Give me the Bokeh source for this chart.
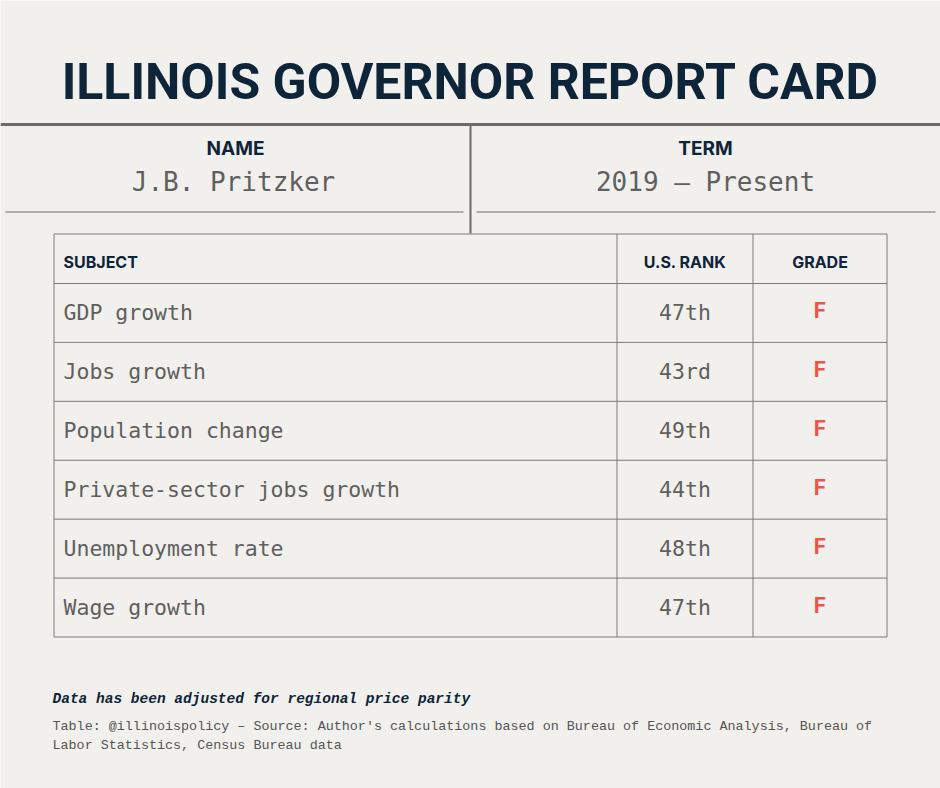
from bokeh.plotting import figure
from bokeh.models import Range1d, ColumnDataSource
from bokeh.core.properties import value
from bokeh.embed import file_html
from bokeh.resources import INLINE

# ---- data ----
title = "ILLINOIS GOVERNOR REPORT CARD"
name_label = "NAME"
name_value = "J.B. Pritzker"
term_label = "TERM"
term_value = "2019 – Present"
col_headers = ["SUBJECT", "U.S. RANK", "GRADE"]
subjects = ["GDP growth", "Jobs growth", "Population change",
            "Private-sector jobs growth", "Unemployment rate", "Wage growth"]
ranks = ["47th", "43rd", "49th", "44th", "48th", "47th"]
grades = ["F", "F", "F", "F", "F", "F"]
note = "Data has been adjusted for regional price parity"
source_lines = ["Table: @illinoispolicy – Source: Author's calculations based on Bureau of Economic Analysis, Bureau of",
                "Labor Statistics, Census Bureau data"]

# ---- styles ----
BG = "#f1f0ed"
NAVY = "#0e2438"
GRAY_TXT = "#5f5f5f"
LINE = "#6a6a6a"
TLINE = "#7a7a7a"
RED = "#e8574a"
MONO = value("DejaVu Sans Mono")
HEAD = value("Inter")

W, H = 940, 788
p = figure(width=W, height=H, output_backend="svg", toolbar_location=None,
           x_range=Range1d(0, W), y_range=Range1d(H, 0),
           min_border=0, background_fill_color=BG, border_fill_color=BG,
           outline_line_color=None)
p.axis.visible = False
p.grid.visible = False

# title
p.text(x=[470], y=[81], text=[title], text_font=value("Roboto"),
       text_font_style="bold", text_font_size="50px", text_color=NAVY,
       text_align="center", text_baseline="middle")

# header band lines
p.segment(x0=[0], y0=[124], x1=[940], y1=[124], line_color=LINE, line_width=3)
p.segment(x0=[470], y0=[124], x1=[470], y1=[233], line_color=LINE, line_width=2)
p.segment(x0=[5, 476], y0=[211.5, 211.5], x1=[463, 935], y1=[211.5, 211.5],
          line_color=LINE, line_width=1)

p.text(x=[235, 705], y=[148, 148], text=[name_label, term_label], text_font=HEAD,
       text_font_style="bold", text_font_size="19px", text_color=NAVY,
       text_align="center", text_baseline="middle")
p.text(x=[233, 705], y=[181, 181], text=[name_value, term_value], text_font=MONO,
       text_font_size="26px", text_color=GRAY_TXT,
       text_align="center", text_baseline="middle")

# table geometry
x_left, x_c1, x_c2, x_right = 53.5, 616.5, 752.5, 886.5
y_top, y_head = 233.5, 283
row_h = (636.5 - y_head) / len(subjects)
row_tops = [y_head + i * row_h for i in range(len(subjects))]
row_mid = [t + row_h / 2 for t in row_tops]
y_bottom = y_head + row_h * len(subjects)

# border & grid
p.quad(left=[x_left], right=[x_right], top=[y_top], bottom=[y_bottom],
       fill_color=None, line_color=TLINE, line_width=1)
hy = [y_head] + row_tops[1:]
p.segment(x0=[x_left] * len(hy), y0=hy, x1=[x_right] * len(hy), y1=hy,
          line_color=TLINE, line_width=1)
p.segment(x0=[x_c1, x_c2], y0=[y_top, y_top], x1=[x_c1, x_c2], y1=[y_bottom, y_bottom],
          line_color=TLINE, line_width=1)

# column headers
hx = [63, (x_c1 + x_c2) / 2, (x_c2 + x_right) / 2]
ha = ["left", "center", "center"]
for x, t, a in zip(hx, col_headers, ha):
    p.text(x=[x], y=[261], text=[t], text_font=HEAD, text_font_style="bold",
           text_font_size="16px", text_color=NAVY, text_align=a, text_baseline="middle")

src = ColumnDataSource(dict(subject=subjects, rank=ranks, grade=grades, y=row_mid,
                            xs=[63] * 6, xr=[(x_c1 + x_c2) / 2] * 6,
                            xg=[(x_c2 + x_right) / 2] * 6))
p.text(x="xs", y="y", text="subject", source=src, text_font=MONO,
       text_font_size="21.5px", text_color=GRAY_TXT, text_align="left",
       text_baseline="middle")
p.text(x="xr", y="y", text="rank", source=src, text_font=MONO,
       text_font_size="21.5px", text_color=GRAY_TXT, text_align="center",
       text_baseline="middle")
p.text(x="xg", y="y", text="grade", source=src, text_font=HEAD, text_font_style="bold",
       text_font_size="21px", text_color=RED, text_align="center",
       text_baseline="middle", y_offset=-2)

# notes
p.text(x=[52], y=[698], text=[note], text_font=value("Liberation Mono"),
       text_font_style="bold italic",
       text_font_size="14.5px", text_color=NAVY, text_align="left", text_baseline="middle")
p.text(x=[52, 52], y=[726, 745], text=source_lines, text_font=value("Liberation Mono"),
       text_font_size="13.4px", text_color="#555555", text_align="left",
       text_baseline="middle")

open("out.html", "w").write(file_html(p, INLINE))
